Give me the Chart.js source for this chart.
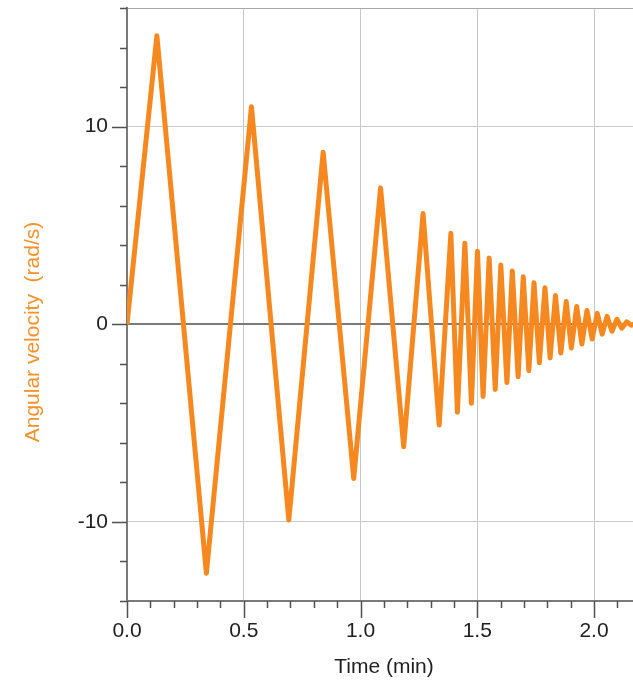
<!DOCTYPE html>
<html lang="en">
<head>
  <meta charset="UTF-8">
  <title>Angular velocity vs time</title>
  <script src="https://cdn.jsdelivr.net/npm/chart.js"></script>
  <style>
    html, body { margin: 0; padding: 0; background: #fff; }
    #wrap { width: 633px; height: 689px; position: relative; }
  </style>
</head>
<body>
  <div id="wrap"><canvas id="chart"></canvas></div>

  <script>
    // peaks and troughs of the sensor trace (time in min, rad/s)
    const times = [
      0, 0.128, 0.340, 0.533, 0.693, 0.840, 0.971, 1.086, 1.185, 1.268,
      1.337, 1.387, 1.415, 1.447, 1.475, 1.501, 1.525, 1.551, 1.577, 1.601,
      1.627, 1.650, 1.675, 1.697, 1.721, 1.743, 1.766, 1.790, 1.812, 1.835,
      1.858, 1.881, 1.903, 1.926, 1.948, 1.970, 1.992, 2.014, 2.035, 2.056,
      2.077, 2.098, 2.119, 2.140, 2.160, 2.180
    ];
    const omega = [
      0, 14.6, -12.6, 11.0, -9.9, 8.7, -7.8, 6.9, -6.2, 5.6,
      -5.1, 4.6, -4.45, 4.1, -4.0, 3.7, -3.65, 3.35, -3.3, 3.0,
      -2.95, 2.7, -2.65, 2.4, -2.35, 2.1, -1.95, 1.85, -1.7, 1.45,
      -1.45, 1.15, -1.2, 0.9, -1.0, 0.7, -0.75, 0.55, -0.5, 0.4,
      -0.35, 0.25, -0.2, 0.12, -0.05, 0.05
    ];
    const xLabels = ['0.0', '0.5', '1.0', '1.5', '2.0'];
    const yLabels = ['-10', '0', '10'];

    const FONT = '"Liberation Sans", Arial, sans-serif';
    const near = (a, b) => Math.abs(a - b) < 1e-6;
    const isMajorX = v => near(v * 2, Math.round(v * 2));
    const isMajorY = v => near(v / 10, Math.round(v / 10));

    // tick marks + axis titles
    const axisDecor = {
      id: 'axisDecor',
      afterDraw(chart) {
        const { ctx, chartArea: a, scales: { x, y } } = chart;
        ctx.save();
        ctx.strokeStyle = '#505050';
        ctx.lineWidth = 1.5;
        ctx.beginPath();
        x.ticks.forEach(t => {
          const px = Math.round(x.getPixelForValue(t.value)) + 0.5;
          const len = isMajorX(t.value) ? 17 : 7;
          ctx.moveTo(px, a.bottom);
          ctx.lineTo(px, a.bottom + len);
        });
        y.ticks.forEach(t => {
          const py = Math.round(y.getPixelForValue(t.value)) + 0.5;
          const len = isMajorY(t.value) ? 15 : 7;
          ctx.moveTo(a.left, py);
          ctx.lineTo(a.left - len, py);
        });
        ctx.stroke();

        ctx.font = '21px ' + FONT;
        ctx.textAlign = 'center';
        ctx.textBaseline = 'middle';
        ctx.fillStyle = '#1e1e1e';
        ctx.fillText('Time (min)', 384, 667);

        ctx.translate(33, 332);
        ctx.rotate(-Math.PI / 2);
        ctx.fillStyle = '#F0922E';
        ctx.fillText('Angular velocity  (rad/s)', 0, 0);
        ctx.restore();
      }
    };

    new Chart(document.getElementById('chart'), {
      type: 'line',
      data: {
        datasets: [{
          data: times.map((t, i) => ({ x: t, y: omega[i] })),
          borderColor: '#F5891F',
          borderWidth: 5,
          borderJoinStyle: 'round',
          pointRadius: 0,
          tension: 0
        }]
      },
      options: {
        responsive: true,
        maintainAspectRatio: false,
        animation: false,
        layout: { padding: { top: 8, right: 0, left: 0, bottom: 0 } },
        plugins: { legend: { display: false }, tooltip: { enabled: false } },
        scales: {
          x: {
            type: 'linear',
            min: 0,
            max: 2.167,
            afterFit: s => {
              s.height = 88;
              s.paddingLeft = 0;
              s.paddingRight = 0;
            },
            border: { color: '#7a7a7a', width: 2 },
            grid: {
              drawTicks: false,
              color: c => isMajorX(c.tick.value) ? '#c8c8c8' : 'rgba(0,0,0,0)',
              lineWidth: 1
            },
            ticks: {
              stepSize: 0.1,
              includeBounds: false,
              autoSkip: false,
              maxRotation: 0,
              padding: 18,
              color: '#1e1e1e',
              font: { family: FONT, size: 21 },
              callback: v => {
                const s = (Math.round(v * 10) / 10).toFixed(1);
                return xLabels.includes(s) ? s : '';
              }
            }
          },
          y: {
            min: -14,
            max: 16,
            afterFit: s => {
              s.width = 127;
              s.paddingTop = 0;
              s.paddingBottom = 0;
            },
            border: { color: '#7a7a7a', width: 2 },
            grid: {
              drawTicks: false,
              color: c => {
                const v = c.tick.value;
                if (v === 0) return '#7a7a7a';
                if (v === 16) return '#a8a8a8';
                return isMajorY(v) ? '#c8c8c8' : 'rgba(0,0,0,0)';
              },
              lineWidth: c => c.tick.value === 0 ? 2 : 1
            },
            ticks: {
              stepSize: 2,
              autoSkip: false,
              padding: 19,
              color: '#1e1e1e',
              font: { family: FONT, size: 21 },
              callback: v => yLabels.includes(String(v)) ? String(v) : ''
            }
          }
        }
      },
      plugins: [axisDecor]
    });
  </script>
</body>
</html>
